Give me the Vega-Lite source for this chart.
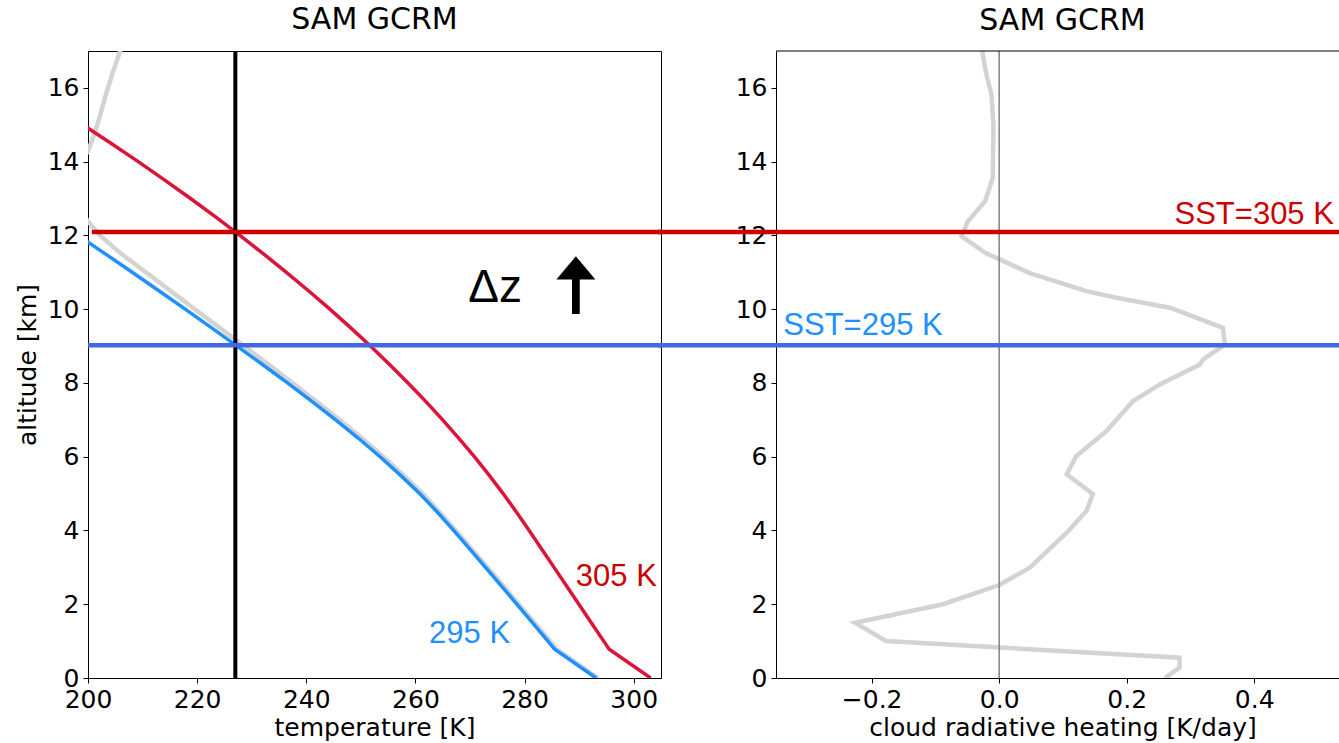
{
  "$schema": "https://vega.github.io/schema/vega-lite/v6.json",
  "padding": {"left": 14, "top": 4, "right": 0, "bottom": 0},
  "background": "white",
  "config": {
    "view": {"stroke": "#000000", "strokeWidth": 1},
    "axis": {"labelFont": "DejaVu Sans", "labelFontSize": 25, "labelColor": "#000000", "titleFont": "DejaVu Sans", "titleFontSize": 25, "titleFontWeight": "normal", "titleColor": "#000000", "tickColor": "#000000", "tickSize": 5, "tickWidth": 1, "domainColor": "#000000", "domainWidth": 1, "grid": false, "labelPadding": 4, "labelFlush": false, "labelOverlap": false},
    "axisX": {"titlePadding": 3},
    "axisY": {"titlePadding": 7},
    "title": {"font": "DejaVu Sans", "fontSize": 30, "fontWeight": "normal", "color": "#000000", "offset": 14, "frame": "group", "anchor": "middle"}
  },
  "datasets": {
    "ref_profile": [
      {"z": 0, "T": 293.5}, {"z": 0.78, "T": 285.9}, {"z": 1.5, "T": 281.8}, {"z": 2.5, "T": 276.1},
      {"z": 3.5, "T": 270.3}, {"z": 4.0, "T": 267.4}, {"z": 4.5, "T": 264.4}, {"z": 5.0, "T": 261.3},
      {"z": 5.5, "T": 257.8}, {"z": 6.0, "T": 254.1}, {"z": 6.5, "T": 250.2}, {"z": 7.0, "T": 246.1},
      {"z": 7.5, "T": 241.8}, {"z": 8.0, "T": 237.5}, {"z": 8.5, "T": 233.1}, {"z": 9.0, "T": 228.6},
      {"z": 9.5, "T": 224.1}, {"z": 10.0, "T": 219.6}, {"z": 10.5, "T": 215.1}, {"z": 11.0, "T": 210.6},
      {"z": 11.5, "T": 206.1}, {"z": 12.0, "T": 202.2}, {"z": 12.38, "T": 200.0}, {"z": 12.8, "T": 198.0},
      {"z": 13.3, "T": 196.6}, {"z": 13.8, "T": 197.6}, {"z": 14.28, "T": 200.0}, {"z": 14.8, "T": 201.3},
      {"z": 15.3, "T": 202.3}, {"z": 15.73, "T": 203.1}, {"z": 16.4, "T": 204.5}, {"z": 17.0, "T": 205.9},
      {"z": 17.5, "T": 207.0}
    ],
    "sst295": [
      {"z": 0, "T": 293.1}, {"z": 0.78, "T": 285.5}, {"z": 1.5, "T": 281.43}, {"z": 2.5, "T": 275.73},
      {"z": 3.5, "T": 269.93}, {"z": 4.0, "T": 267.0}, {"z": 4.5, "T": 264.0}, {"z": 5.0, "T": 260.77},
      {"z": 5.5, "T": 257.24}, {"z": 6.0, "T": 253.51}, {"z": 6.5, "T": 249.56}, {"z": 7.0, "T": 245.38},
      {"z": 7.5, "T": 241.03}, {"z": 8.0, "T": 236.55}, {"z": 8.5, "T": 231.97}, {"z": 9.0, "T": 227.32},
      {"z": 9.5, "T": 222.59}, {"z": 10.0, "T": 217.81}, {"z": 10.5, "T": 212.98}, {"z": 11.0, "T": 208.1},
      {"z": 11.5, "T": 203.17}, {"z": 12.0, "T": 198.22}, {"z": 12.5, "T": 193.3}
    ],
    "sst305": [
      {"z": 0, "T": 303.1}, {"z": 0.78, "T": 295.5}, {"z": 1.0, "T": 294.5}, {"z": 1.5, "T": 292.22},
      {"z": 2.0, "T": 289.95}, {"z": 2.5, "T": 287.67}, {"z": 3.0, "T": 285.4}, {"z": 3.5, "T": 283.12},
      {"z": 4.0, "T": 280.84}, {"z": 4.5, "T": 278.5}, {"z": 5.0, "T": 276.07}, {"z": 5.5, "T": 273.5},
      {"z": 6.0, "T": 270.8}, {"z": 6.5, "T": 267.96}, {"z": 7.0, "T": 264.99}, {"z": 7.5, "T": 261.88},
      {"z": 8.0, "T": 258.64}, {"z": 8.5, "T": 255.26}, {"z": 9.0, "T": 251.75}, {"z": 9.5, "T": 248.1},
      {"z": 10.0, "T": 244.32}, {"z": 10.5, "T": 240.4}, {"z": 11.0, "T": 236.35}, {"z": 11.5, "T": 232.16},
      {"z": 12.0, "T": 227.84}, {"z": 12.5, "T": 223.38}, {"z": 13.0, "T": 218.79}, {"z": 13.5, "T": 214.06},
      {"z": 14.0, "T": 209.2}, {"z": 14.5, "T": 204.2}, {"z": 15.0, "T": 199.07}, {"z": 15.5, "T": 193.87}
    ],
    "tropopause_T": [{"T": 227}],
    "level305_left": [{"z": 12.09, "T": 200.7, "T2": 305}],
    "level295_left": [{"z": 9.02, "T": 200, "T2": 305}],
    "label305": [{"text": "305 K", "T": 289.4, "z": 2.49}],
    "label295": [{"text": "295 K", "T": 262.5, "z": 0.94}],
    "dz_label": [{"text": "Δz", "T": 269.7, "z": 10.19}],
    "arrow": [{"T": 289.4, "z": 9.87, "z2": 10.85, "zh": 11.12}],
    "crh": [
      {"z": 0, "crh": 0.26}, {"z": 0.28, "crh": 0.283}, {"z": 0.55, "crh": 0.283}, {"z": 1.0, "crh": -0.177},
      {"z": 1.5, "crh": -0.226}, {"z": 2.0, "crh": -0.088}, {"z": 2.52, "crh": 0.0}, {"z": 2.99, "crh": 0.048},
      {"z": 3.94, "crh": 0.106}, {"z": 4.53, "crh": 0.137}, {"z": 4.99, "crh": 0.147}, {"z": 5.52, "crh": 0.106},
      {"z": 6.02, "crh": 0.121}, {"z": 6.69, "crh": 0.168}, {"z": 7.51, "crh": 0.21}, {"z": 7.96, "crh": 0.252},
      {"z": 8.5, "crh": 0.315}, {"z": 8.64, "crh": 0.32}, {"z": 9.04, "crh": 0.354}, {"z": 9.49, "crh": 0.351},
      {"z": 10.04, "crh": 0.268}, {"z": 10.31, "crh": 0.184}, {"z": 10.49, "crh": 0.137}, {"z": 10.98, "crh": 0.048},
      {"z": 11.35, "crh": 0.001}, {"z": 11.53, "crh": -0.022}, {"z": 11.98, "crh": -0.059}, {"z": 12.38, "crh": -0.049},
      {"z": 12.93, "crh": -0.022}, {"z": 13.56, "crh": -0.01}, {"z": 15.0, "crh": -0.009}, {"z": 15.82, "crh": -0.012},
      {"z": 16.36, "crh": -0.02}, {"z": 16.95, "crh": -0.026}, {"z": 17.2, "crh": -0.028}
    ],
    "zero_line": [{"crh": 0}],
    "level305_right": [{"z": 12.09, "crh": -0.535, "crh2": 0.533}],
    "level295_right": [{"z": 9.02, "crh": -0.535, "crh2": 0.533}],
    "sst305_label": [{"text": "SST=305 K", "crh": 0.275, "z": 12.32}],
    "sst295_label": [{"text": "SST=295 K", "crh": -0.3385, "z": 9.31}],
    "top_border": [{"z": 17, "crh": -0.35, "crh2": 0.533}]
  },
  "bounds": "flush",
  "spacing": 115,
  "hconcat": [
    {
      "width": 573,
      "height": 627,
      "title": {"text": "SAM GCRM"},
      "layer": [
        {
          "data": {"name": "ref_profile"},
          "mark": {"type": "line", "color": "#d3d3d3", "strokeWidth": 4.5, "clip": true},
          "encoding": {
            "x": {"field": "T", "type": "quantitative", "title": "temperature [K]", "scale": {"domain": [200, 305], "nice": false, "zero": false}, "axis": {"values": [200, 220, 240, 260, 280, 300]}},
            "y": {"field": "z", "type": "quantitative", "title": "altitude [km]", "scale": {"domain": [0, 17], "nice": false, "zero": false}, "axis": {"values": [0, 2, 4, 6, 8, 10, 12, 14, 16]}},
            "order": {"field": "z", "type": "quantitative"}
          }
        },
        {
          "data": {"name": "sst295"},
          "mark": {"type": "line", "color": "#1e90ff", "strokeWidth": 3.5, "clip": true},
          "encoding": {
            "x": {"field": "T", "type": "quantitative", "title": "temperature [K]", "scale": {"domain": [200, 305], "nice": false, "zero": false}},
            "y": {"field": "z", "type": "quantitative", "title": "altitude [km]", "scale": {"domain": [0, 17], "nice": false, "zero": false}},
            "order": {"field": "z", "type": "quantitative"}
          }
        },
        {
          "data": {"name": "sst305"},
          "mark": {"type": "line", "color": "#dc143c", "strokeWidth": 3.5, "clip": true},
          "encoding": {
            "x": {"field": "T", "type": "quantitative", "title": "temperature [K]", "scale": {"domain": [200, 305], "nice": false, "zero": false}},
            "y": {"field": "z", "type": "quantitative", "title": "altitude [km]", "scale": {"domain": [0, 17], "nice": false, "zero": false}},
            "order": {"field": "z", "type": "quantitative"}
          }
        },
        {
          "data": {"name": "tropopause_T"},
          "mark": {"type": "rule", "color": "#000000", "strokeWidth": 4},
          "encoding": {
            "x": {"field": "T", "type": "quantitative", "title": "temperature [K]", "scale": {"domain": [200, 305], "nice": false, "zero": false}}
          }
        },
        {
          "data": {"name": "level305_left"},
          "mark": {"type": "rule", "color": "#cc0000", "strokeWidth": 4.5},
          "encoding": {
            "x": {"field": "T", "type": "quantitative", "title": "temperature [K]", "scale": {"domain": [200, 305], "nice": false, "zero": false}},
            "x2": {"field": "T2"},
            "y": {"field": "z", "type": "quantitative", "title": "altitude [km]", "scale": {"domain": [0, 17], "nice": false, "zero": false}}
          }
        },
        {
          "data": {"name": "level295_left"},
          "mark": {"type": "rule", "color": "#4169e1", "strokeWidth": 4.5},
          "encoding": {
            "x": {"field": "T", "type": "quantitative", "title": "temperature [K]", "scale": {"domain": [200, 305], "nice": false, "zero": false}},
            "x2": {"field": "T2"},
            "y": {"field": "z", "type": "quantitative", "title": "altitude [km]", "scale": {"domain": [0, 17], "nice": false, "zero": false}}
          }
        },
        {
          "data": {"name": "label305"},
          "mark": {"type": "text", "color": "#cc0000", "font": "Liberation Sans", "fontSize": 31, "align": "left", "baseline": "alphabetic"},
          "encoding": {
            "x": {"field": "T", "type": "quantitative", "title": "temperature [K]", "scale": {"domain": [200, 305], "nice": false, "zero": false}},
            "y": {"field": "z", "type": "quantitative", "title": "altitude [km]", "scale": {"domain": [0, 17], "nice": false, "zero": false}},
            "text": {"field": "text"}
          }
        },
        {
          "data": {"name": "label295"},
          "mark": {"type": "text", "color": "#1e90ff", "font": "Liberation Sans", "fontSize": 31, "align": "left", "baseline": "alphabetic"},
          "encoding": {
            "x": {"field": "T", "type": "quantitative", "title": "temperature [K]", "scale": {"domain": [200, 305], "nice": false, "zero": false}},
            "y": {"field": "z", "type": "quantitative", "title": "altitude [km]", "scale": {"domain": [0, 17], "nice": false, "zero": false}},
            "text": {"field": "text"}
          }
        },
        {
          "data": {"name": "dz_label"},
          "mark": {"type": "text", "color": "#000000", "font": "Liberation Sans", "fontSize": 46, "align": "left", "baseline": "alphabetic"},
          "encoding": {
            "x": {"field": "T", "type": "quantitative", "title": "temperature [K]", "scale": {"domain": [200, 305], "nice": false, "zero": false}},
            "y": {"field": "z", "type": "quantitative", "title": "altitude [km]", "scale": {"domain": [0, 17], "nice": false, "zero": false}},
            "text": {"field": "text"}
          }
        },
        {
          "data": {"name": "arrow"},
          "mark": {"type": "rule", "color": "#000000", "strokeWidth": 7.7},
          "encoding": {
            "x": {"field": "T", "type": "quantitative", "title": "temperature [K]", "scale": {"domain": [200, 305], "nice": false, "zero": false}},
            "y": {"field": "z", "type": "quantitative", "title": "altitude [km]", "scale": {"domain": [0, 17], "nice": false, "zero": false}},
            "y2": {"field": "z2"}
          }
        },
        {
          "data": {"name": "arrow"},
          "mark": {"type": "point", "shape": "M-1,0.6L0,-0.6L1,0.6Z", "filled": true, "color": "#000000", "opacity": 1, "size": 1521, "strokeWidth": 0},
          "encoding": {
            "x": {"field": "T", "type": "quantitative", "title": "temperature [K]", "scale": {"domain": [200, 305], "nice": false, "zero": false}},
            "y": {"field": "zh", "type": "quantitative", "title": "altitude [km]", "scale": {"domain": [0, 17], "nice": false, "zero": false}}
          }
        }
      ]
    },
    {
      "width": 563,
      "height": 627,
      "view": {"stroke": null},
      "title": {"text": "SAM GCRM", "dx": 5},
      "layer": [
        {
          "data": {"name": "crh"},
          "mark": {"type": "line", "color": "#d3d3d3", "strokeWidth": 4.5, "clip": true},
          "encoding": {
            "x": {"field": "crh", "type": "quantitative", "title": "cloud radiative heating [K/day]", "scale": {"domain": [-0.35, 0.533], "nice": false, "zero": false}, "axis": {"values": [-0.2, 0, 0.2, 0.4], "format": ".1f", "titleX": 286.5}},
            "y": {"field": "z", "type": "quantitative", "title": null, "scale": {"domain": [0, 17], "nice": false, "zero": false}, "axis": {"values": [0, 2, 4, 6, 8, 10, 12, 14, 16], "title": null}},
            "order": {"field": "z", "type": "quantitative"}
          }
        },
        {
          "data": {"name": "zero_line"},
          "mark": {"type": "rule", "color": "#808080", "strokeWidth": 1.5},
          "encoding": {
            "x": {"field": "crh", "type": "quantitative", "title": "cloud radiative heating [K/day]", "scale": {"domain": [-0.35, 0.533], "nice": false, "zero": false}}
          }
        },
        {
          "data": {"name": "top_border"},
          "mark": {"type": "rule", "color": "#000000", "strokeWidth": 1},
          "encoding": {
            "x": {"field": "crh", "type": "quantitative", "title": "cloud radiative heating [K/day]", "scale": {"domain": [-0.35, 0.533], "nice": false, "zero": false}},
            "x2": {"field": "crh2"},
            "y": {"field": "z", "type": "quantitative", "title": null, "scale": {"domain": [0, 17], "nice": false, "zero": false}}
          }
        },
        {
          "data": {"name": "level305_right"},
          "mark": {"type": "rule", "color": "#cc0000", "strokeWidth": 4.5, "clip": false},
          "encoding": {
            "x": {"field": "crh", "type": "quantitative", "title": "cloud radiative heating [K/day]", "scale": {"domain": [-0.35, 0.533], "nice": false, "zero": false}},
            "x2": {"field": "crh2"},
            "y": {"field": "z", "type": "quantitative", "title": null, "scale": {"domain": [0, 17], "nice": false, "zero": false}}
          }
        },
        {
          "data": {"name": "level295_right"},
          "mark": {"type": "rule", "color": "#4169e1", "strokeWidth": 4.5, "clip": false},
          "encoding": {
            "x": {"field": "crh", "type": "quantitative", "title": "cloud radiative heating [K/day]", "scale": {"domain": [-0.35, 0.533], "nice": false, "zero": false}},
            "x2": {"field": "crh2"},
            "y": {"field": "z", "type": "quantitative", "title": null, "scale": {"domain": [0, 17], "nice": false, "zero": false}}
          }
        },
        {
          "data": {"name": "sst305_label"},
          "mark": {"type": "text", "color": "#cc0000", "font": "Liberation Sans", "fontSize": 31, "align": "left", "baseline": "alphabetic"},
          "encoding": {
            "x": {"field": "crh", "type": "quantitative", "title": "cloud radiative heating [K/day]", "scale": {"domain": [-0.35, 0.533], "nice": false, "zero": false}},
            "y": {"field": "z", "type": "quantitative", "title": null, "scale": {"domain": [0, 17], "nice": false, "zero": false}},
            "text": {"field": "text"}
          }
        },
        {
          "data": {"name": "sst295_label"},
          "mark": {"type": "text", "color": "#1e90ff", "font": "Liberation Sans", "fontSize": 31, "align": "left", "baseline": "alphabetic"},
          "encoding": {
            "x": {"field": "crh", "type": "quantitative", "title": "cloud radiative heating [K/day]", "scale": {"domain": [-0.35, 0.533], "nice": false, "zero": false}},
            "y": {"field": "z", "type": "quantitative", "title": null, "scale": {"domain": [0, 17], "nice": false, "zero": false}},
            "text": {"field": "text"}
          }
        }
      ]
    }
  ]
}
